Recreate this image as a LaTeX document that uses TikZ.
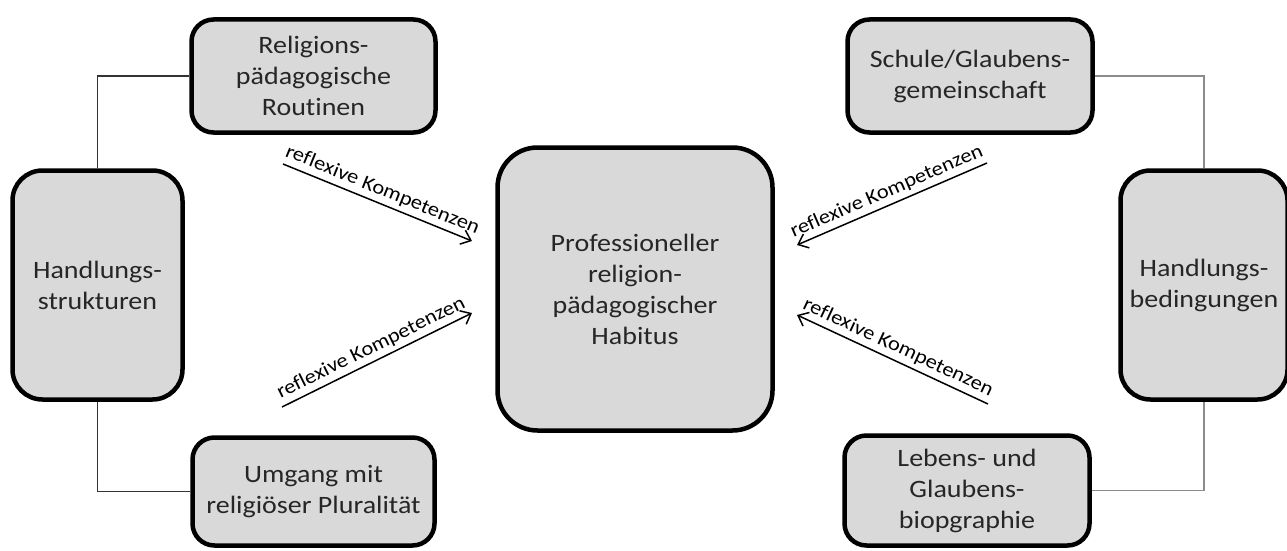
\documentclass[tikz,border=0pt]{standalone}
\usepackage{fontspec}
\setmainfont{Carlito}[FakeStretch=1.12, Ligatures={NoCommon}]
\usetikzlibrary{arrows.meta}

\definecolor{boxgrau}{RGB}{217,217,217}
\definecolor{liniegrau}{RGB}{140,140,140}

\tikzset{
  feld/.style={draw=black, line width=4.5pt, fill=boxgrau, rounded corners=22pt,
    align=center, inner sep=0pt, text=black!85, font=\fontsize{25}{31}\selectfont},
  linie/.style={line width=1.8pt, draw=black!80},
  linieR/.style={line width=1.8pt, draw=liniegrau},
  pfeil/.style={line width=1.5pt, -{Straight Barb[length=9pt,width=15pt,line width=1.5pt]}},
  kompetenz/.style={sloped, above, inner sep=4pt, font=\fontsize{20}{22}\selectfont}
}

\begin{document}
\begin{tikzpicture}[x=1pt, y=-1pt]
  \useasboundingbox (0,0) rectangle (1287,551);

  % Mitte
  \node[feld, rounded corners=40pt, minimum width=275pt, minimum height=283pt] (habitus) at (635,289)
    {Professioneller\\religion-\\pädagogischer\\Habitus};

  % linke Seite
  \node[feld, minimum width=244pt, minimum height=113pt] (routinen) at (313.5,76)
    {Religions-\\pädagogische\\Routinen};
  \node[feld, rounded corners=30pt, minimum width=170pt, minimum height=229pt] (hstrukt) at (97.5,285)
    {Handlungs-\\strukturen};
  \node[feld, minimum width=242pt, minimum height=108pt] (plural) at (313.5,491.5)
    {Umgang mit\\religiöser Pluralität};

  % rechte Seite
  \node[feld, minimum width=245pt, minimum height=113pt] (schule) at (970,76)
    {Schule/Glaubens-\\gemeinschaft};
  \node[feld, rounded corners=30pt, minimum width=167pt, minimum height=229pt] (hbed) at (1204,285)
    {Handlungs-\\bedingungen};
  \node[feld, minimum width=245pt, minimum height=110pt] (leben) at (967,490.5)
    {Lebens- und\\Glaubens-\\biopgraphie};

  % Verbindungen
  \draw[linie] (routinen.west) -| (hstrukt.north);
  \draw[linie] (plural.west) -| (hstrukt.south);
  \draw[linieR] (schule.east) -| (hbed.north);
  \draw[linieR] (leben.east) -| (hbed.south);

  % Pfeile zur Mitte
  \coordinate (p1a) at (283,164);  \coordinate (p1b) at (472,241);
  \coordinate (p2a) at (282,407);  \coordinate (p2b) at (472,313);
  \coordinate (p3a) at (987,163);  \coordinate (p3b) at (797,245);
  \coordinate (p4a) at (988,404);  \coordinate (p4b) at (797,315);
  \foreach \von/\nach in {p1a/p1b, p2a/p2b, p3a/p3b, p4a/p4b}
    \draw[pfeil] (\von) -- node[kompetenz] {reflexive Kompetenzen} (\nach);
\end{tikzpicture}
\end{document}
